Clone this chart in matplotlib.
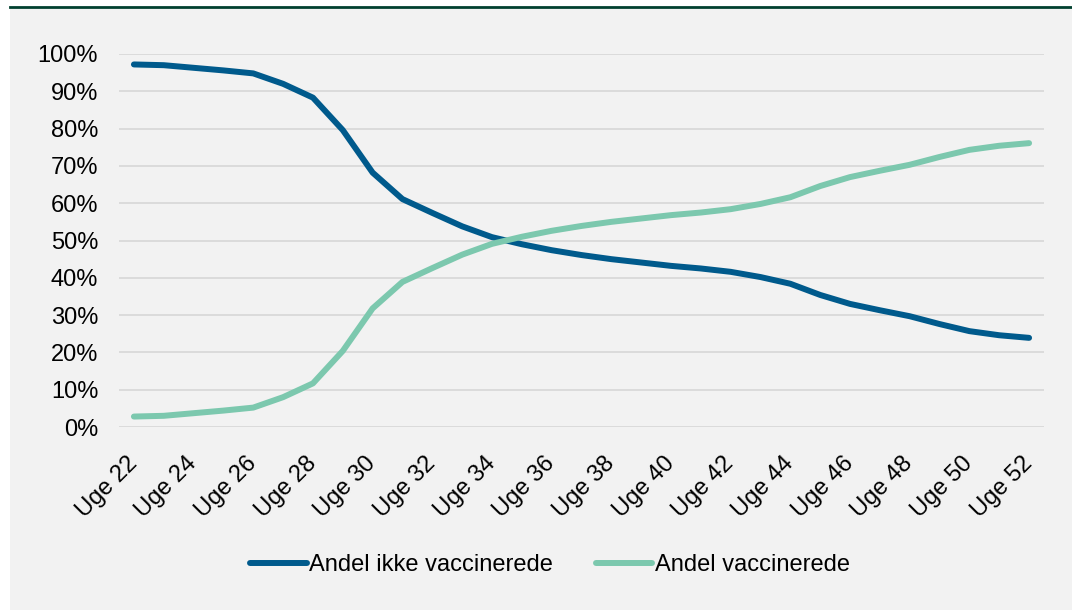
import matplotlib
matplotlib.use('Agg')
from matplotlib import pyplot as plt
from matplotlib.patches import Rectangle
from matplotlib.lines import Line2D
from matplotlib.ticker import PercentFormatter

weeks = list(range(22, 53))
week_labels = [f'Uge {w}' for w in weeks]

# andel i procent
ikke_vaccinerede = [97.2, 97.0, 96.3, 95.6, 94.8, 92.0, 88.3, 79.6, 68.2, 61.1,
                    57.4, 53.8, 50.9, 49.0, 47.4, 46.1, 45.0, 44.1, 43.2, 42.5,
                    41.6, 40.2, 38.4, 35.4, 33.0, 31.3, 29.7, 27.6, 25.7, 24.6, 23.9]
vaccinerede = [2.8, 3.0, 3.7, 4.4, 5.2, 8.0, 11.7, 20.4, 31.8, 38.9,
               42.6, 46.2, 49.1, 51.0, 52.6, 53.9, 55.0, 55.9, 56.8, 57.5,
               58.4, 59.8, 61.6, 64.6, 67.0, 68.7, 70.3, 72.4, 74.3, 75.4, 76.1]

blue = '#005A8C'
green = '#7CC8AE'
bg = '#F2F2F2'

plt.rcParams['font.family'] = ['Liberation Sans', 'DejaVu Sans']

fig = plt.figure(figsize=(10.72, 6.10), dpi=100, facecolor='white')
# grå baggrund og mørkegrøn streg i toppen
fig.patches.append(Rectangle((10 / 1072, 0), 1, 1 - 8.5 / 610, transform=fig.transFigure,
                             facecolor=bg, edgecolor='none', zorder=-2))
fig.lines.append(Line2D([10 / 1072, 1], [1 - 7 / 610, 1 - 7 / 610], transform=fig.transFigure,
                        color='#00402F', lw=2.0, zorder=-1))

ax = fig.add_axes([119 / 1072, 1 - 427 / 610, (1044 - 119) / 1072, (427 - 54) / 610])
ax.set_facecolor(bg)

x = list(range(len(weeks)))
ax.plot(x, ikke_vaccinerede, color=blue, lw=4.3, solid_capstyle='round',
        solid_joinstyle='round', label='Andel ikke vaccinerede', zorder=3)
ax.plot(x, vaccinerede, color=green, lw=4.3, solid_capstyle='round',
        solid_joinstyle='round', label='Andel vaccinerede', zorder=3)

ax.set_xlim(-0.5, len(weeks) - 0.5)
ax.set_ylim(0, 100)
ax.set_yticks(range(0, 101, 10))
ax.yaxis.set_major_formatter(PercentFormatter(decimals=0))
ax.grid(axis='y', color='#D9D9D9', lw=1.3)
ax.set_axisbelow(True)
for s in ax.spines.values():
    s.set_visible(False)

ax.set_xticks(x[::2])
ax.set_xticklabels(week_labels[::2], rotation=45, ha='right', va='center',
                   rotation_mode='anchor')
ax.tick_params(axis='x', length=0, pad=24, labelsize=17)
ax.tick_params(axis='y', length=0, pad=15, labelsize=17)

ax.legend(loc='center', bbox_to_anchor=(550 / 1072, 1 - 565 / 610),
          bbox_transform=fig.transFigure, ncol=2, frameon=False, fontsize=17,
          handlelength=2.4, handletextpad=0.1, columnspacing=1.8)

fig.savefig('out.png', dpi=100, facecolor='white')
